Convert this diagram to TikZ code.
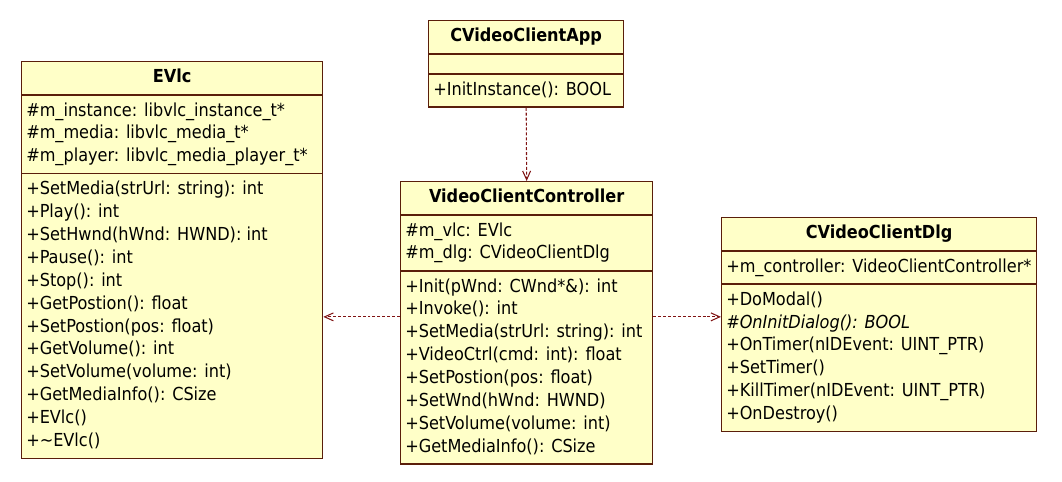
\documentclass[tikz,border=0pt]{standalone}
\usepackage{fontspec}
\setmainfont{DejaVu Sans Condensed}
\usetikzlibrary{shapes.multipart,arrows.meta}
\definecolor{classfill}{RGB}{255,255,200}
\definecolor{classline}{RGB}{90,30,10}
\definecolor{depline}{RGB}{128,20,20}

\begin{document}
\begin{tikzpicture}[x=0.02cm,y=-0.02cm,
    umlclass/.style={draw=classline, line width=0.8pt, fill=classfill,
      rectangle split, rectangle split parts=3,
      rectangle split part align={center,left,left},
      align=left, anchor=north west, inner xsep=2.6pt, inner ysep=2.55pt,
      font=\fontsize{10.2}{13}\selectfont},
    dep/.style={depline, line width=0.6pt, dash pattern=on 1.7pt off 1.1pt,
      -{Straight Barb[length=5pt,width=4.5pt]}}]
    \useasboundingbox (0,0) rectangle (1062,482);

    % Draw the classes
    \node[umlclass, minimum width=6.02cm] (evlc) at (21,61)
      {\strut\textbf{EVlc}
       \nodepart{two}\strut\#m\_instance: libvlc\_instance\_t*\\
       \#m\_media: libvlc\_media\_t*\\
       \#m\_player: libvlc\_media\_player\_t*\strut
       \nodepart{three}\strut+SetMedia(strUrl: string): int\\
       +Play(): int\\
       +SetHwnd(hWnd: HWND): int\\
       +Pause(): int\\
       +Stop(): int\\
       +GetPostion(): float\\
       +SetPostion(pos: float)\\
       +GetVolume(): int\\
       +SetVolume(volume: int)\\
       +GetMediaInfo(): CSize\\
       +EVlc()\\
       +\textasciitilde EVlc()\strut};
    \node[umlclass, minimum width=3.9cm] (app) at (428,20)
      {\strut\textbf{CVideoClientApp}
       \nodepart{two}
       \nodepart{three}\strut+InitInstance(): BOOL\strut};
    \node[umlclass, minimum width=5.04cm] (ctrl) at (400,181)
      {\strut\textbf{VideoClientController}
       \nodepart{two}\strut\#m\_vlc: EVlc\\
       \#m\_dlg: CVideoClientDlg\strut
       \nodepart{three}\strut+Init(pWnd: CWnd*\&): int\\
       +Invoke(): int\\
       +SetMedia(strUrl: string): int\\
       +VideoCtrl(cmd: int): float\\
       +SetPostion(pos: float)\\
       +SetWnd(hWnd: HWND)\\
       +SetVolume(volume: int)\\
       +GetMediaInfo(): CSize\strut};
    \node[umlclass, minimum width=6.3cm] (dlg) at (721,217)
      {\strut\textbf{CVideoClientDlg}
       \nodepart{two}\strut+m\_controller: VideoClientController*\strut
       \nodepart{three}\strut+DoModal()\\
       \textit{\#OnInitDialog(): BOOL}\\
       +OnTimer(nIDEvent: UINT\_PTR)\\
       +SetTimer()\\
       +KillTimer(nIDEvent: UINT\_PTR)\\
       +OnDestroy()\strut};

    % Draw the dependencies
    \draw[dep] (app.south) -- (ctrl.north);
    \draw[dep] ([yshift=0.12cm]ctrl.west) -- ([yshift=0.12cm]ctrl.west -| evlc.east);
    \draw[dep] ([yshift=0.12cm]ctrl.east) -- ([yshift=0.12cm]ctrl.east -| dlg.west);
\end{tikzpicture}
\end{document}
